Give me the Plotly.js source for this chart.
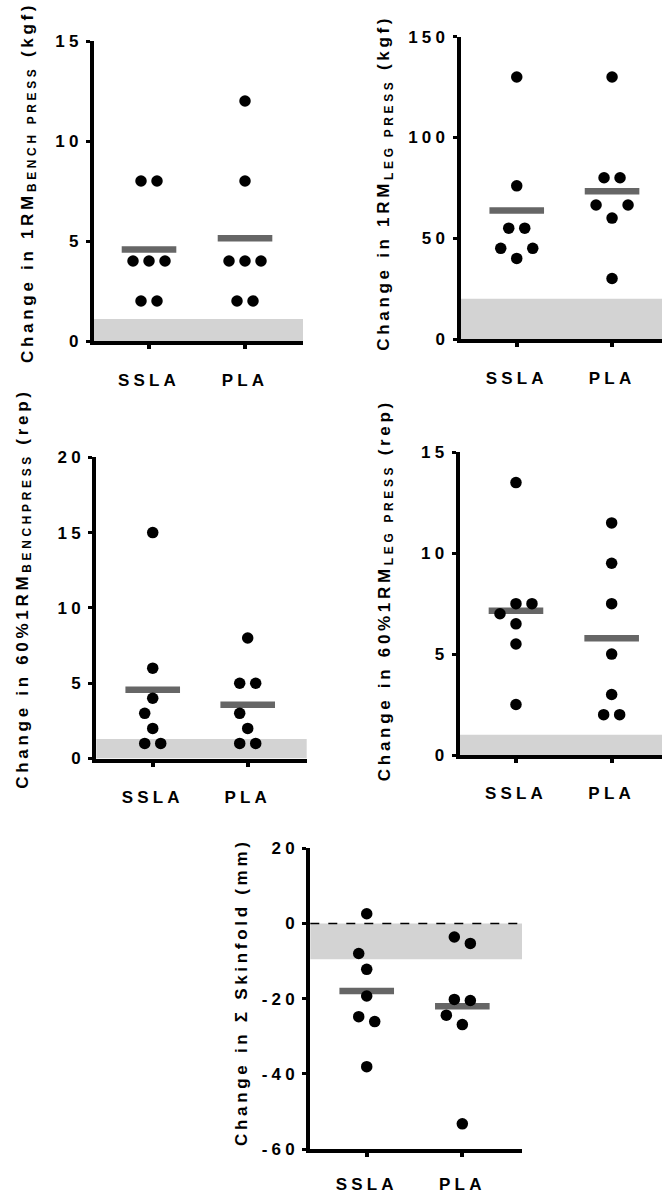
<!DOCTYPE html>
<html><head><meta charset="utf-8">
<script src="https://cdn.plot.ly/plotly-3.0.1.min.js"></script>
<style>
html,body{margin:0;padding:0;background:#fff;}
#chart{width:662px;height:1195px;}
#chart svg text{letter-spacing:4.2px;}
#chart svg .annotation-text{letter-spacing:3.7px;}
</style></head><body><div id="chart"></div>
<script>
// ---- data ----
const categories = ['SSLA', 'PLA'];
const benchSSLA = [8, 8, 4, 4, 4, 2, 2];
const benchPLA = [12, 8, 4, 4, 4, 2, 2];
const legSSLA = [130, 76, 55, 55, 45, 45, 40];
const legPLA = [130, 80, 80, 66.5, 66.5, 60, 30];
const benchRepSSLA = [15, 6, 4, 3, 2, 1, 1];
const benchRepPLA = [8, 5, 5, 3, 2, 1, 1];
const legRepSSLA = [13.5, 7.5, 7.5, 7, 6.5, 5.5, 2.5];
const legRepPLA = [11.5, 9.5, 7.5, 5, 3, 2, 2];
const skinSSLA = [2.6, -8, -12.2, -19.3, -24.8, -26.1, -38.1];
const skinPLA = [-3.6, -5.3, -20.2, -20.5, -24.4, -26.9, -53.3];
const bandLimits = [1.1, 20, 1.3, 1, -9.5];
const yTicks1 = [0, 5, 10, 15];
const yTicks2 = [0, 50, 100, 150];
const yTicks3 = [0, 5, 10, 15, 20];
const yTicks4 = [0, 5, 10, 15];
const yTicks5 = [-60, -40, -20, 0, 20];
const yTitles = [
  'Change in 1RM<sub>BENCH PRESS</sub> (kgf)',
  'Change in 1RM<sub>LEG PRESS</sub> (kgf)',
  'Change in 60%1RM<sub>BENCHPRESS</sub> (rep)',
  'Change in 60%1RM<sub>LEG PRESS</sub> (rep)',
  'Change in Σ Skinfold (mm)'
];

// ---- layout geometry (pixels) ----
const W = 662, H = 1195;
const panels = [
  {a: benchSSLA, b: benchPLA, band: bandLimits[0], title: yTitles[0], ticks: yTicks1, px: {l: 94, r: 303, t: 41, b: 341}, xa: 0.427, xb: 2.604, tx: 28.5, ty: 183, so: 17},
  {a: legSSLA, b: legPLA, band: bandLimits[1], title: yTitles[1], ticks: yTicks2, px: {l: 460.5, r: 662, t: 36.7, b: 339}, xa: 0.41, xb: 2.524, tx: 385, ty: 183, so: 17},
  {a: benchRepSSLA, b: benchRepPLA, band: bandLimits[2], title: yTitles[2], ticks: yTicks3, px: {l: 96.3, r: 306.7, t: 457.3, b: 758.5}, xa: 0.406, xb: 2.621, tx: 23.5, ty: 589, so: 16},
  {a: legRepSSLA, b: legRepPLA, band: bandLimits[3], title: yTitles[3], ticks: yTicks4, px: {l: 459.7, r: 662, t: 452.3, b: 755}, xa: 0.412, xb: 2.526, tx: 385.8, ty: 590, so: 16},
  {a: skinSSLA, b: skinPLA, band: bandLimits[4], title: yTitles[4], ticks: yTicks5, px: {l: 310.3, r: 522, t: 848.3, b: 1149}, xa: 0.41, xb: 2.624, tx: 240.8, ty: 992, so: 13}
];

const FONT = 'Arial, "Liberation Sans", sans-serif';
const FS = 17;
const mean = arr => arr.reduce((s, v) => s + v, 0) / arr.length;

// beeswarm-style horizontal spreading (computed from values, in pixel space)
function swarm(vals, pxX, pxY) {
  const STEP = 8, T = 15.8, ROWTOL = 8;
  const order = vals.map((v, i) => i).sort((p, q) => vals[p] - vals[q]);
  const rows = [];
  order.forEach(i => {
    const last = rows[rows.length - 1];
    if (last && Math.abs(vals[i] - vals[last[0]]) * pxY < ROWTOL) last.push(i); else rows.push([i]);
  });
  const off = new Array(vals.length).fill(0);
  const placed = [];
  rows.forEach(row => {
    row.sort((p, q) => vals[q] - vals[p]);
    const n = row.length;
    const cands = [];
    for (let c = -48; c <= 48; c += STEP) {
      for (let s = 16; s <= 48; s += 16) {
        const pos = row.map((_, k) => c + (k - (n - 1) / 2) * s);
        cands.push({pos, cost: Math.max(...pos.map(Math.abs)), c: Math.abs(c), s, neg: c < 0 ? 1 : 0});
        if (n === 1) break;
      }
    }
    cands.sort((p, q) => p.cost - q.cost || p.c - q.c || p.s - q.s || q.neg - p.neg);
    for (const cd of cands) {
      const ok = row.every((idx, k) => placed.every(p => Math.hypot(cd.pos[k] - p.x, (vals[idx] - p.v) * pxY) >= T));
      if (ok) {
        row.forEach((idx, k) => { off[idx] = cd.pos[k]; placed.push({x: cd.pos[k], v: vals[idx]}); });
        break;
      }
    }
  });
  return off.map(o => o / pxX);
}

const data = [], shapes = [], annotations = [];
const layout = {
  width: W, height: H, margin: {l: 0, r: 0, t: 0, b: 0},
  paper_bgcolor: '#fff', plot_bgcolor: 'rgba(0,0,0,0)', showlegend: false,
  font: {family: FONT, color: '#000'}
};

panels.forEach((p, i) => {
  const n = i + 1;
  const xk = n === 1 ? 'xaxis' : 'xaxis' + n, yk = n === 1 ? 'yaxis' : 'yaxis' + n;
  const xr = n === 1 ? 'x' : 'x' + n, yr = n === 1 ? 'y' : 'y' + n;
  const yMin = Math.min(...p.ticks), yMax = Math.max(...p.ticks);
  const pxX = (p.px.r - p.px.l) / (p.xb - p.xa);
  const pxY = (p.px.b - p.px.t) / (yMax - yMin);

  layout[xk] = {
    domain: [p.px.l / W, p.px.r / W], anchor: yr, range: [p.xa, p.xb],
    showline: true, linewidth: 4, linecolor: '#000', showgrid: false, zeroline: false,
    tickmode: 'array', tickvals: [1, 2], ticktext: categories,
    ticks: 'outside', ticklen: 4, tickwidth: 4, tickcolor: '#000',
    ticklabelstandoff: p.so,
    tickfont: {family: FONT, size: FS, weight: 700, color: '#000'}, fixedrange: true
  };
  layout[yk] = {
    domain: [1 - p.px.b / H, 1 - p.px.t / H], anchor: xr, range: [yMin, yMax],
    showline: true, linewidth: 4, linecolor: '#000', showgrid: false, zeroline: false,
    tickmode: 'array', tickvals: p.ticks, ticktext: p.ticks.map(String),
    ticks: 'outside', ticklen: 4, tickwidth: 3, tickcolor: '#000',
    tickfont: {family: FONT, size: FS, weight: 700, color: '#000'}, fixedrange: true
  };

  // shaded band
  shapes.push({type: 'rect', xref: xr + ' domain', yref: yr, x0: 0, x1: 1, y0: 0, y1: p.band,
    fillcolor: '#d3d3d3', line: {width: 0}, layer: 'below'});
  if (yMin < 0) {
    shapes.push({type: 'line', xref: xr + ' domain', yref: yr, x0: 0, x1: 1, y0: 0, y1: 0,
      line: {color: '#000', width: 1.5, dash: 'dash'}, layer: 'below'});
  }

  // means
  data.push({type: 'scatter', mode: 'markers', xaxis: xr, yaxis: yr,
    x: [1, 2], y: [mean(p.a), mean(p.b)],
    marker: {symbol: 'line-ew', size: 39, color: '#666', line: {color: '#666', width: 6.5}},
    hoverinfo: 'skip', cliponaxis: false});

  // points
  [p.a, p.b].forEach((vals, g) => {
    const offs = swarm(vals, pxX, pxY);
    data.push({type: 'scatter', mode: 'markers', xaxis: xr, yaxis: yr,
      x: vals.map((v, k) => g + 1 + offs[k]), y: vals,
      marker: {size: 11.5, color: '#000'}, cliponaxis: false, name: categories[g]});
  });

  annotations.push({xref: 'paper', yref: 'paper', x: p.tx / W, y: 1 - p.ty / H,
    xanchor: 'center', yanchor: 'middle', showarrow: false, textangle: -90,
    text: p.title, font: {family: FONT, size: FS, weight: 700, color: '#000'}});
});

layout.shapes = shapes;
layout.annotations = annotations;
Plotly.newPlot('chart', data, layout, {staticPlot: true, displayModeBar: false});
</script></body></html>
